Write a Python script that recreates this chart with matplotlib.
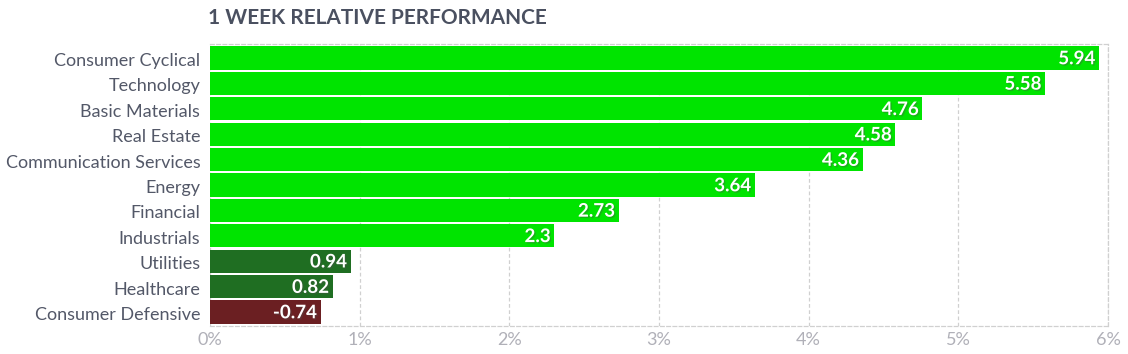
import matplotlib.pyplot as plt
import matplotlib.patheffects as pe

sectors = ["Consumer Cyclical", "Technology", "Basic Materials", "Real Estate",
           "Communication Services", "Energy", "Financial", "Industrials",
           "Utilities", "Healthcare", "Consumer Defensive"]
values = [5.94, 5.58, 4.76, 4.58, 4.36, 3.64, 2.73, 2.3, 0.94, 0.82, -0.74]
ticks = [0, 1, 2, 3, 4, 5, 6]
tick_labels = ["0%", "1%", "2%", "3%", "4%", "5%", "6%"]


def bar_color(v):
    if v < 0:
        return "#6b1f22"
    if v < 1:
        return "#1f6e22"
    return "#00e400"


plt.rcParams["font.family"] = ["Lato", "DejaVu Sans"]

fig = plt.figure(figsize=(11.28, 3.54), dpi=100)
ax = fig.add_axes([210 / 1128, 1 - 326 / 354, 898 / 1128, 282 / 354])

pos = list(range(len(sectors)))
ax.barh(pos, [abs(v) for v in values], height=0.92,
        color=[bar_color(v) for v in values], zorder=3)

# value labels inside the bar end, white with a soft shadow
shadow = [pe.withSimplePatchShadow(offset=(1, -1), alpha=0.35)]
for y, v in zip(pos, values):
    ax.text(abs(v) - 0.025, y + 0.03, f"{v:g}", ha="right", va="center",
            color="white", fontsize=13.5, fontweight="bold", zorder=4,
            path_effects=shadow)

ax.set_xlim(0, 6)
ax.set_ylim(10.55, -0.55)
ax.set_yticks([p + 0.06 for p in pos], sectors, fontsize=13, color="#535868")
ax.set_xticks(ticks, tick_labels, fontsize=13, color="#b0b0b8")
ax.tick_params(axis="x", length=0, pad=4)
ax.tick_params(axis="y", length=0, pad=7)

ax.grid(axis="x", color="#d0d0d0", linestyle=(0, (3, 2)), linewidth=0.9, zorder=0)
for side in ["top", "right", "bottom"]:
    ax.spines[side].set_color("#d0d0d0")
    ax.spines[side].set_linestyle((0, (3, 2)))
    ax.spines[side].set_linewidth(0.9)
ax.spines["left"].set_visible(False)

fig.text(208 / 1128, 1 - 18 / 354, "1 WEEK RELATIVE PERFORMANCE", ha="left",
         va="center", fontsize=15, fontweight="bold", color="#4a5060")

fig.savefig("out.png", dpi=100)
